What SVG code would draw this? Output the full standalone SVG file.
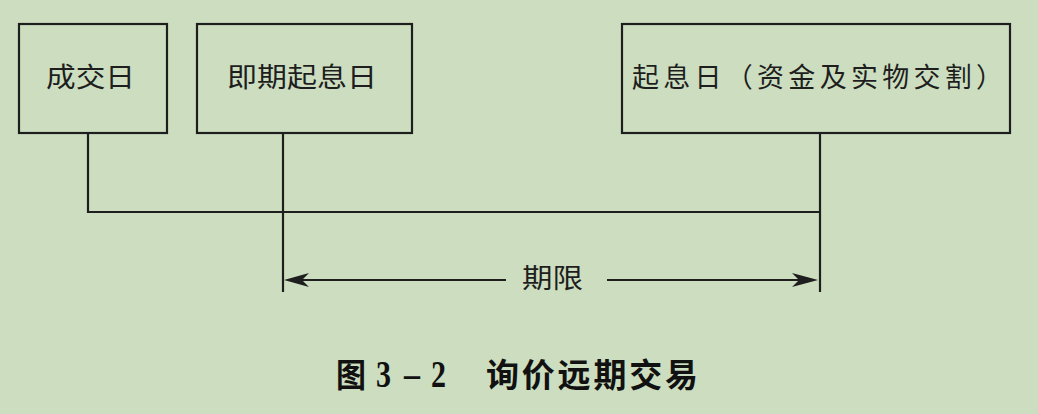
<svg xmlns="http://www.w3.org/2000/svg" width="1038" height="414" viewBox="0 0 1038 414">
<style>
.box{fill:none;stroke:#1e1e1e;stroke-width:2.2}
.ln{fill:none;stroke:#1e1e1e;stroke-width:2.2}
.lbl{font-family:"Liberation Serif","Noto Sans CJK SC",serif;font-size:27px;fill:#1e1e1e}
.cap{font-family:"Liberation Serif","Noto Sans CJK SC",serif;font-size:33px;font-weight:bold;fill:#111}
.num{font-family:"Liberation Serif",serif;font-size:38px;font-weight:bold;fill:#111}
.ah{fill:#1e1e1e}
</style>
<rect width="1038" height="414" fill="#cddec0"/>
<g id="node-trade">
<rect class="box" x="19" y="24" width="148" height="109"/>
<text class="lbl" x="46" y="87" textLength="89" lengthAdjust="spacingAndGlyphs">成交日</text>
</g>
<g id="node-spot">
<rect class="box" x="197" y="24" width="215" height="109"/>
<text class="lbl" x="227" y="87" textLength="150" lengthAdjust="spacingAndGlyphs">即期起息日</text>
</g>
<g id="node-value">
<rect class="box" x="622" y="24" width="388" height="109"/>
<text class="lbl" x="632" y="87" textLength="371" lengthAdjust="spacing">起息日（资金及实物交割）</text>
</g>
<g id="connectors">
<polyline class="ln" points="88,133 88,212 820,212"/>
<line class="ln" x1="283" y1="133" x2="283" y2="292"/>
<line class="ln" x1="820" y1="133" x2="820" y2="292"/>
<line class="ln" x1="296" y1="280" x2="506" y2="280"/>
<line class="ln" x1="607" y1="280" x2="805" y2="280"/>
<path class="ah" d="M284,280 L309,273 L302,280 L309,287 Z"/>
<path class="ah" d="M818,280 L792,273 L799,280 L792,287 Z"/>
<text class="lbl" x="522" y="288" textLength="61" lengthAdjust="spacingAndGlyphs">期限</text>
</g>
<g id="caption">
<text class="cap" x="336" y="387" textLength="30" lengthAdjust="spacingAndGlyphs">图</text>
<text class="num" x="376" y="387" textLength="15" lengthAdjust="spacingAndGlyphs">3</text>
<text class="num" x="404" y="387" textLength="16" lengthAdjust="spacingAndGlyphs">–</text>
<text class="num" x="431" y="387" textLength="15" lengthAdjust="spacingAndGlyphs">2</text>
<text class="cap" x="486" y="387" textLength="212" lengthAdjust="spacing">询价远期交易</text>
</g>
</svg>
